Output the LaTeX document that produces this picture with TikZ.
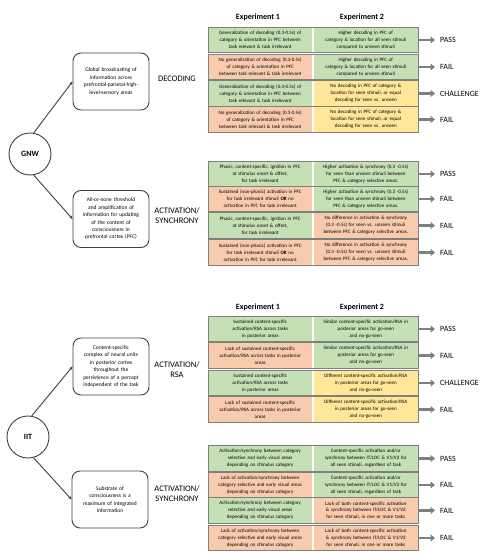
\documentclass[tikz,border=0pt]{standalone}
\usepackage{fontspec}
\setmainfont{Carlito}
\usetikzlibrary{arrows.meta}
\definecolor{cgreen}{HTML}{C5E0B4}
\definecolor{corange}{HTML}{F8CBAD}
\definecolor{cyellow}{HTML}{FFE699}
\definecolor{cframe}{HTML}{7F7F7F}
\definecolor{cline}{HTML}{404040}
\tikzset{
  cellbox/.style={minimum width=104.4pt, minimum height=25pt, inner sep=0pt, text width=102pt, align=center, font=\fontsize{5}{6.9}\selectfont},
  rowframe/.style={draw=cframe, line width=1pt, minimum width=210pt, minimum height=25.5pt, inner sep=0pt},
  verdict/.style={anchor=west, inner sep=0pt, font=\fontsize{8}{9}\selectfont},
  bigarrow/.style={draw=cframe, line width=2.6pt, -{Triangle[length=4.5pt,width=7pt]}, shorten >=5pt},
  theorybox/.style={draw=cline, line width=0.9pt, rounded corners=8pt, minimum width=76pt, minimum height=57pt, inner sep=1pt, text width=72pt, align=center, font=\fontsize{5.5}{7.4}\selectfont},
  theory/.style={draw=cline, line width=0.9pt, circle, minimum size=42pt, inner sep=0pt, font=\bfseries\fontsize{8}{9}\selectfont},
  measure/.style={align=center, inner sep=0pt, font=\fontsize{8.5}{10}\selectfont},
  header/.style={inner sep=0pt, font=\bfseries\fontsize{8}{9}\selectfont},
  link/.style={draw=cline, line width=0.9pt, -{Stealth[length=3.5pt,width=3pt]}}
}
\newcommand\myrow[7]{%
  \node[cellbox, fill=#3] (#1L) at (260.2,#2) {#5};
  \node[cellbox, fill=#4] (#1R) at (365.8,#2) {#6};
  \node[rowframe] (#1) at (313,#2) {};
  \node[verdict] (#1v) at (440,#2) {#7};
  \draw[bigarrow] (#1.east) -- (#1v.west);
}
\begin{document}
\begin{tikzpicture}[x=1pt,y=-1pt]
\useasboundingbox (0,0) rectangle (493,553);
% headers
\node[header] (h1a) at (258,17) {Experiment 1};
\node[header] (h2a) at (362,17) {Experiment 2};
\node[header] (h1b) at (258,307) {Experiment 1};
\node[header] (h2b) at (362,307) {Experiment 2};
% GNW decoding
\myrow{ga}{40}{cgreen}{cgreen}{Generalization of decoding (0.3-0.5s) of\\category \& orientation in PFC between\\task relevant \& task irrelevant}{Higher decoding in PFC of\\category \& location for all seen stimuli\\compared to unseen stimuli}{PASS}
\myrow{gb}{67}{corange}{cgreen}{No generalization of decoding (0.3-0.5s)\\of category \& orientation in PFC\\between task relevant \& task irrelevant}{Higher decoding in PFC of\\category \& location for all seen stimuli\\compared to unseen stimuli}{FAIL}
\myrow{gc}{93.5}{cgreen}{cyellow}{Generalization of decoding (0.3-0.5s) of\\category \& orientation in PFC between\\task relevant \& task irrelevant}{No decoding in PFC of category \&\\location for seen stimuli, or equal\\decoding for seen vs. unseen}{CHALLENGE}
\myrow{gd}{119.5}{corange}{cyellow}{No generalization of decoding (0.3-0.5s)\\of category \& orientation in PFC\\between task relevant \& task irrelevant}{No decoding in PFC of category \&\\location for seen stimuli, or equal\\decoding for seen vs. unseen}{FAIL}
% GNW activation
\myrow{ge}{174}{cgreen}{cgreen}{Phasic, content-specific, ignition in PFC\\at stimulus onset \& offset,\\for task irrelevant}{Higher activation \& synchrony (0.3 -0.5s)\\for seen than unseen stimuli between\\PFC \& category selective areas.}{PASS}
\myrow{gf}{199}{corange}{cgreen}{Sustained (non-phasic) activation in PFC\\for task irrelevant stimuli \textbf{OR} no\\activation in PFC for task irrelevant}{Higher activation \& synchrony (0.3 -0.5s)\\for seen than unseen stimuli between\\PFC \& category selective areas.}{FAIL}
\myrow{gg}{225.5}{cgreen}{corange}{Phasic, content-specific, ignition in PFC\\at stimulus onset \& offset,\\for task irrelevant}{No difference in activation \& synchrony\\(0.3 -0.5s) for seen vs. unseen stimuli\\between PFC \& category selective areas.}{FAIL}
\myrow{gh}{252.5}{corange}{corange}{Sustained (non-phasic) activation in PFC\\for task irrelevant stimuli \textbf{OR} no\\activation in PFC for task irrelevant}{No difference in activation \& synchrony\\(0.3 -0.5s) for seen vs. unseen stimuli\\between PFC \& category selective areas.}{FAIL}
% IIT RSA
\myrow{ia}{329}{cgreen}{cgreen}{Sustained content-specific\\activation/RSA across tasks\\in posterior areas}{Similar content-specific activation/RSA in\\posterior areas for go-seen\\and no-go-seen}{PASS}
\myrow{ib}{355.5}{corange}{cgreen}{Lack of sustained content-specific\\activation/RSA across tasks in posterior\\areas}{Similar content-specific activation/RSA in\\posterior areas for go-seen\\and no-go-seen}{FAIL}
\myrow{ic}{383}{cgreen}{cyellow}{Sustained content-specific\\activation/RSA across tasks\\in posterior areas}{Different content-specific activation/RSA\\in posterior areas for go-seen\\and no-go-seen}{CHALLENGE}
\myrow{id}{409.5}{corange}{cyellow}{Lack of sustained content-specific\\activation/RSA across tasks in posterior\\areas}{Different content-specific activation/RSA\\in posterior areas for go-seen\\and no-go-seen}{FAIL}
% IIT activation
\myrow{ie}{458.5}{cgreen}{cgreen}{Activation/synchrony between category\\selective and early visual areas\\depending on stimulus category}{Content-specific activation and/or\\synchrony between IT/LOC \& V1/V2 for\\all seen stimuli, regardless of task}{PASS}
\myrow{if}{485}{corange}{cgreen}{Lack of activation/synchrony between\\category selective and early visual areas\\depending on stimulus category}{Content-specific activation and/or\\synchrony between IT/LOC \& V1/V2 for\\all seen stimuli, regardless of task}{FAIL}
\myrow{ig}{510.5}{cgreen}{corange}{Activation/synchrony between category\\selective and early visual areas\\depending on stimulus category}{Lack of both content-specific activation\\\& synchrony between IT/LOC \& V1/V2\\for seen stimuli, in one or more tasks}{FAIL}
\myrow{ih}{538}{corange}{corange}{Lack of activation/synchrony between\\category selective and early visual areas\\depending on stimulus category}{Lack of both content-specific activation\\\& synchrony between IT/LOC \& V1/V2\\for seen stimuli, in one or more tasks}{FAIL}
% measures
\node[measure] (m1) at (177,79) {DECODING};
\node[measure] (m2) at (177,215.5) {ACTIVATION/\\SYNCHRONY};
\node[measure] (m3) at (177,369.5) {ACTIVATION/\\RSA};
\node[measure] (m4) at (177,494) {ACTIVATION/\\SYNCHRONY};
% theory boxes
\node[theorybox] (b1) at (111,81.5) {Global broadcasting of\\information across\\prefrontal-parietal-high-\\level-sensory areas};
\node[theorybox] (b2) at (111,219) {All-or-none threshold\\and amplification of\\information for updating\\of the content of\\consciousness in\\prefrontal cortex (PFC)};
\node[theorybox] (b3) at (111,366.5) {Content-specific\\complex of neural units\\in posterior cortex\\throughout the\\persistence of a percept\\independent of the task};
\node[theorybox] (b4) at (110,499.5) {Substrate of\\consciousness is a\\maximum of integrated\\information};
% theories
\node[theory] (gnw) at (30,154) {GNW};
\node[theory] (iit) at (28,437) {IIT};
\draw[link] (gnw.80) -- (b1.west);
\draw[link] (gnw.-80) -- (b2.west);
\draw[link] (iit.80) -- (b3.west);
\draw[link] (iit.-75) -- (b4.west);
\end{tikzpicture}
\end{document}
